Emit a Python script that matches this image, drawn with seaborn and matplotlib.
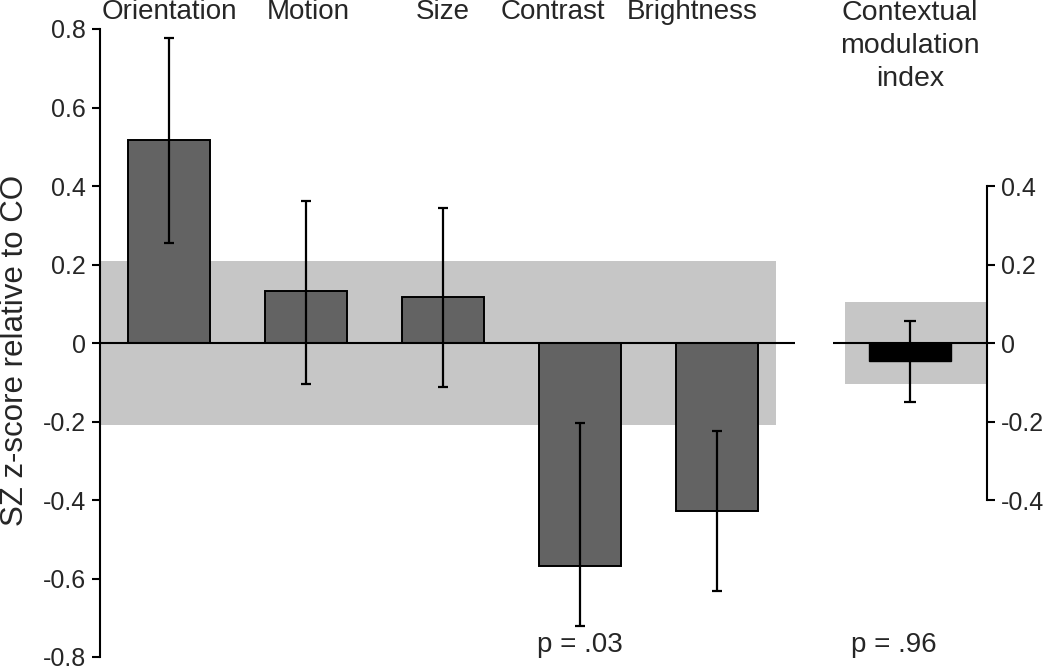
import matplotlib
matplotlib.use("Agg")
import matplotlib.pyplot as plt
import matplotlib.transforms as mtransforms
import seaborn as sns
import numpy as np

# ---------------- data ----------------
categories = ["Orientation", "Motion", "Size", "Contrast", "Brightness"]
values = [0.518, 0.132, 0.117, -0.567, -0.428]
err_upper = [0.776, 0.362, 0.345, -0.205, -0.225]
err_lower = [0.255, -0.104, -0.112, -0.720, -0.632]
band_half = 0.21

cmi_label = "Contextual\nmodulation\nindex"
cmi_value = [-0.045]
cmi_upper = [0.057]
cmi_lower = [-0.151]
cmi_band_half = 0.104

left_ticks = [-0.8, -0.6, -0.4, -0.2, 0, 0.2, 0.4, 0.6, 0.8]
right_ticks = [-0.4, -0.2, 0, 0.2, 0.4]
p_labels = ["p = .03", "p = .96"]
ylabel = "SZ z-score relative to CO"

# ---------------- style ----------------
sns.set_style("white")
plt.rcParams["font.family"] = ["Liberation Sans", "DejaVu Sans"]
plt.rcParams["axes.unicode_minus"] = False

BAR = "#636363"
BAND = "#c6c6c6"
W, H = 1050, 667
TICK_FS = 18
LABEL_FS = 20
fig = plt.figure(figsize=(10.5, 6.67), dpi=100)

def fx(px):
    return px / W

def fy(py):
    return 1 - py / H

ytop, ybot = 29, 657
ax = fig.add_axes([fx(100), fy(ybot), fx(795) - fx(100), fy(ytop) - fy(ybot)])
ax2 = fig.add_axes([fx(833), fy(ybot), fx(987) - fx(833), fy(ytop) - fy(ybot)])

def fmt(v):
    return "0" if v == 0 else f"{v:g}"

# ---- left panel ----
ax.axhspan(-band_half, band_half, xmin=0, xmax=0.973, color=BAND, lw=0, zorder=0)
sns.barplot(x=categories, y=values, errorbar=None, color=BAR, saturation=1,
            edgecolor="black", linewidth=1.4, width=0.6, ax=ax, zorder=2)
pos = np.arange(len(categories))
vals = np.array(values)
ax.errorbar(pos, vals, yerr=[vals - np.array(err_lower), np.array(err_upper) - vals],
            fmt="none", ecolor="black", elinewidth=1.6, capsize=3.5, capthick=1.6, zorder=4)
ax.axhline(0, color="black", lw=1.5, zorder=3)
ax.set_xlim(-0.504, 4.57)
ax.set_ylim(-0.8, 0.8)
ax.set_yticks(left_ticks)
ax.set_yticklabels([fmt(v) for v in left_ticks], fontsize=TICK_FS)
ax.set_xticks([])
ax.set_xlabel("")
ax.set_ylabel("")
for s in ["top", "right", "bottom"]:
    ax.spines[s].set_visible(False)
ax.spines["left"].set_linewidth(1.5)
ax.spines["left"].set_color("black")
ax.tick_params(axis="y", direction="out", length=6, width=1.5, color="black", pad=4, left=True)
ax.patch.set_alpha(0)

fig.text(fx(15), fy(350), ylabel, rotation=90, ha="center", va="center", fontsize=22.5)

label_shift = [0, 0.02, 0, -0.2, -0.18]
trans = mtransforms.blended_transform_factory(ax.transData, fig.transFigure)
for i, c in enumerate(categories):
    ax.text(i + label_shift[i], fy(12), c, transform=trans, ha="center", va="center", fontsize=LABEL_FS)
ax.text(3.0, fy(645), p_labels[0], transform=trans, ha="center", va="center", fontsize=LABEL_FS)

# ---- right panel ----
ax2.axhspan(-cmi_band_half, cmi_band_half, xmin=0.078, xmax=1, color=BAND, lw=0, zorder=0)
sns.barplot(x=["CMI"], y=cmi_value, errorbar=None, color="black", saturation=1,
            edgecolor="black", linewidth=1.0, width=0.6, ax=ax2, zorder=2)
cv = np.array(cmi_value)
ax2.errorbar([0], cv, yerr=[cv - np.array(cmi_lower), np.array(cmi_upper) - cv],
             fmt="none", ecolor="black", elinewidth=1.6, capsize=4, capthick=1.6, zorder=4)
ax2.axhline(0, color="black", lw=1.5, zorder=3)
ax2.set_xlim(-0.562, 0.562)
ax2.set_ylim(-0.8, 0.8)
ax2.yaxis.tick_right()
ax2.set_yticks(right_ticks)
ax2.set_yticklabels([fmt(v) for v in right_ticks], fontsize=TICK_FS)
ax2.set_xticks([])
ax2.set_xlabel("")
ax2.set_ylabel("")
for s in ["top", "left", "bottom"]:
    ax2.spines[s].set_visible(False)
ax2.spines["right"].set_visible(True)
ax2.spines["right"].set_linewidth(1.5)
ax2.spines["right"].set_color("black")
ax2.spines["right"].set_bounds(-0.4, 0.4)
ax2.tick_params(axis="y", direction="out", length=6, width=1.5, color="black", pad=4,
                right=True, left=False, labelright=True, labelleft=False)
ax2.patch.set_alpha(0)

trans2 = mtransforms.blended_transform_factory(ax2.transData, fig.transFigure)
ax2.text(0, fy(0), cmi_label, transform=trans2, ha="center", va="top", fontsize=20.5, linespacing=1.35)
ax2.text(-0.12, fy(645), p_labels[1], transform=trans2, ha="center", va="center", fontsize=LABEL_FS)

fig.savefig("out.png", dpi=100)
